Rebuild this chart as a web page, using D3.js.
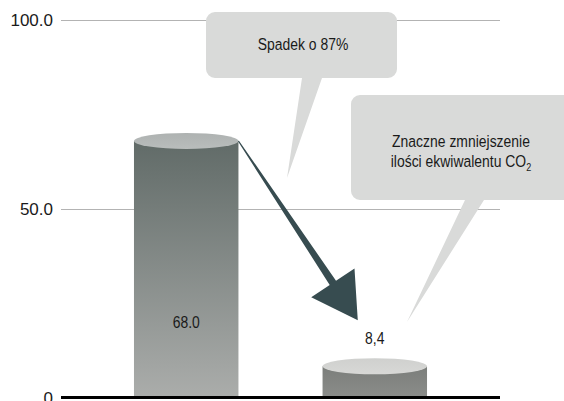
<!DOCTYPE html>
<html>
<head>
<meta charset="utf-8">
<script src="https://cdn.jsdelivr.net/npm/d3@7"></script>
<style>
  html, body { margin: 0; padding: 0; background: #ffffff; }
  svg { display: block; }
  .narrow { font-family: "Liberation Sans Narrow", "Arial Narrow", "Liberation Sans", Arial, sans-serif; }
</style>
</head>
<body>
<svg id="chart" width="564" height="401"></svg>
<script>
// Emission values for the two scenarios
const categories = ["before", "after"];
const values = [68.0, 8.4];
const valueLabels = ["68.0", "8,4"];

// Y axis ticks and their printed labels
const tickValues = [0, 50, 100];
const tickLabels = ["0", "50.0", "100.0"];

// Callout texts
const calloutDrop = ["Spadek o 87%"];
const calloutCO2 = ["Znaczne zmniejszenie", "ilości ekwiwalentu CO"];

const W = 564, H = 401;
const margin = { left: 61, right: 64, top: 20, bottom: 3 };

const svg = d3.select("#chart");

const x = d3.scaleBand()
  .domain(categories)
  .range([margin.left, W - margin.right])
  .paddingInner(0.446)
  .paddingOuter(0.387);

const y = d3.scaleLinear()
  .domain([0, 100])
  .range([H - margin.bottom, margin.top]);

// Gradients for the cylinder bodies and caps
const defs = svg.append("defs");
const bodyStops = [["#616b68", "#abadab"], ["#7b7e7b", "#8b8d8a"]];
const capStops = [["#aeb2b1", "#b9bdbc"], ["#cfd0ce", "#d8d8d6"]];
categories.forEach((c, i) => {
  const g = defs.append("linearGradient").attr("id", "body" + i)
    .attr("x1", 0).attr("y1", 0).attr("x2", 0).attr("y2", 1);
  g.append("stop").attr("offset", 0).attr("stop-color", bodyStops[i][0]);
  g.append("stop").attr("offset", 1).attr("stop-color", bodyStops[i][1]);
  const cg = defs.append("linearGradient").attr("id", "cap" + i)
    .attr("x1", 0).attr("y1", 0).attr("x2", 0).attr("y2", 1);
  cg.append("stop").attr("offset", 0).attr("stop-color", capStops[i][0]);
  cg.append("stop").attr("offset", 1).attr("stop-color", capStops[i][1]);
});

// Y axis with gridlines
const gridWidth = (W - margin.right) - margin.left;
const axis = d3.axisLeft(y)
  .tickValues(tickValues)
  .tickFormat((d, i) => tickLabels[i])
  .tickSizeInner(-gridWidth)
  .tickSizeOuter(0)
  .tickPadding(8);

const axisG = svg.append("g")
  .attr("transform", `translate(${margin.left},0)`)
  .call(axis);
axisG.select(".domain").remove();
axisG.selectAll(".tick line")
  .attr("stroke", "#b3b3b3")
  .attr("stroke-width", 1);
axisG.selectAll(".tick text")
  .attr("font-family", "'Liberation Sans', Arial, sans-serif")
  .attr("font-size", 17)
  .attr("fill", "#1a1a1a");

// Cylinders
const ry = 8;
const bars = svg.append("g");
categories.forEach((c, i) => {
  const x0 = x(c), bw = x.bandwidth();
  const yTop = y(values[i]), yBase = y(0);
  bars.append("rect")
    .attr("x", x0).attr("y", yTop)
    .attr("width", bw).attr("height", yBase - yTop)
    .attr("fill", `url(#body${i})`);
  bars.append("ellipse")
    .attr("cx", x0 + bw / 2).attr("cy", yTop)
    .attr("rx", bw / 2).attr("ry", ry)
    .attr("fill", `url(#cap${i})`);
});

// Baseline at zero
svg.append("line")
  .attr("x1", margin.left).attr("x2", W - margin.right)
  .attr("y1", y(0) - 0.5).attr("y2", y(0) - 0.5)
  .attr("stroke", "#000").attr("stroke-width", 3);

// Value labels: inside the tall bar, above the short one
const narrowTexts = [];
categories.forEach((c, i) => {
  const cx = x(c) + x.bandwidth() / 2;
  const inside = values[i] > 30;
  const ty = inside ? y(0) - 70 : y(values[i]) - 22;
  narrowTexts.push(svg.append("text")
    .attr("class", "narrow")
    .attr("x", cx).attr("y", ty)
    .attr("text-anchor", "middle")
    .attr("font-size", 17)
    .attr("fill", "#1a1a1a")
    .text(valueLabels[i]));
});

// Arrow from the top of the first cylinder down towards the second
(function drawArrow() {
  const sx = x(categories[0]) + x.bandwidth(), sy = y(values[0]);
  const tx = x(categories[1]) + x.bandwidth() / 2 - 17, ty = y(values[1]) - 46;
  const dx = tx - sx, dy = ty - sy, L = Math.hypot(dx, dy);
  const ux = dx / L, uy = dy / L, nx = -uy, ny = ux;
  const headLen = 45, headHalf = 26, shaftHalf = 3.8, startHalf = 0.6;
  const pt = (a, p) => [sx + ux * a + nx * p, sy + uy * a + ny * p];
  const poly = [
    pt(0, -startHalf), pt(L - headLen, -shaftHalf), pt(L - headLen, -headHalf),
    pt(L, 0),
    pt(L - headLen, headHalf), pt(L - headLen, shaftHalf), pt(0, startHalf)
  ];
  svg.append("path")
    .attr("d", d3.line()(poly) + "Z")
    .attr("fill", "#374c50");
})();

// Speech-bubble callouts: rounded box plus a pointed tail
function bubblePath(x0, y0, x1, y1, r, tailA, tailB, tip) {
  const p = d3.path();
  p.moveTo(x0 + r, y0);
  p.lineTo(x1 - r, y0);
  p.arcTo(x1, y0, x1, y0 + r, r);
  p.lineTo(x1, y1 - r);
  p.arcTo(x1, y1, x1 - r, y1, r);
  p.lineTo(tailB, y1);
  p.lineTo(tip[0], tip[1]);
  p.lineTo(tailA, y1);
  p.lineTo(x0 + r, y1);
  p.arcTo(x0, y1, x0, y1 - r, r);
  p.lineTo(x0, y0 + r);
  p.arcTo(x0, y0, x0 + r, y0, r);
  p.closePath();
  return p.toString();
}
const bubbleFill = "#d9dad9";

// Callout 1: the percentage drop
const b1x = x(categories[0]) + x.bandwidth() / 2;
svg.append("path")
  .attr("d", bubblePath(206, 12, 397, 78, 9, 302, 322, [287, 178]))
  .attr("fill", bubbleFill);
calloutDrop.forEach((t, i) => {
  narrowTexts.push(svg.append("text")
    .attr("class", "narrow")
    .attr("x", 303).attr("y", 50 + i * 20)
    .attr("text-anchor", "middle")
    .attr("font-size", 17)
    .attr("fill", "#1a1a1a")
    .text(t));
});

// Callout 2: CO2 equivalent reduction
svg.append("path")
  .attr("d", bubblePath(351, 95, 580, 200, 9, 465, 484, [407, 322]))
  .attr("fill", bubbleFill);
calloutCO2.forEach((t, i) => {
  const tx = svg.append("text")
    .attr("class", "narrow")
    .attr("x", 461).attr("y", 147 + i * 20)
    .attr("text-anchor", "middle")
    .attr("font-size", 17)
    .attr("fill", "#1a1a1a");
  tx.append("tspan").text(t);
  if (i === calloutCO2.length - 1) {
    tx.append("tspan").attr("font-size", 11).attr("dy", 4).text("2");
  }
  narrowTexts.push(tx);
});

// If no condensed face is installed, compress the regular face horizontally
(function condenseIfNeeded() {
  const probe = svg.append("text").attr("font-size", 40).text("Znaczne zmniejszenie");
  probe.attr("font-family", "'Liberation Sans', Arial, sans-serif");
  const wide = probe.node().getComputedTextLength();
  probe.attr("class", "narrow").attr("font-family", null);
  const narrow = probe.node().getComputedTextLength();
  probe.remove();
  if (narrow > wide * 0.95) {
    narrowTexts.forEach(t => {
      const ax = +t.attr("x");
      t.attr("transform", `translate(${ax},0) scale(0.82,1) translate(${-ax},0)`);
    });
  }
})();
</script>
</body>
</html>
